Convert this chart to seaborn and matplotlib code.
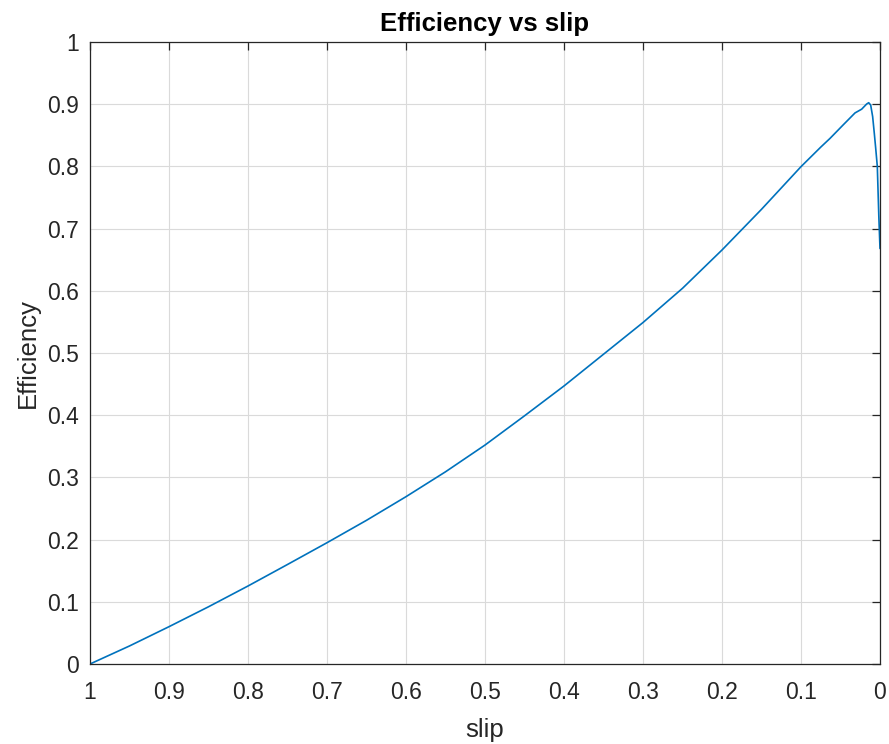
import matplotlib
matplotlib.use("Agg")
import matplotlib.pyplot as plt
import matplotlib.ticker as mticker
import seaborn as sns
import pandas as pd

# Motor efficiency sampled across the slip range (denser near synchronous speed)
slip = [1.0, 0.95, 0.9, 0.85, 0.8, 0.75, 0.7, 0.65, 0.6, 0.55, 0.5, 0.45,
        0.4, 0.35, 0.3, 0.25, 0.2, 0.15, 0.1, 0.075, 0.0633, 0.0464, 0.0316,
        0.0232, 0.0169, 0.0143, 0.0118, 0.0093, 0.0072, 0.0055,
        0.0034, 0.0015, 0.0]
efficiency = [0.0, 0.029, 0.060, 0.092, 0.1254, 0.160, 0.1950, 0.231, 0.269,
              0.309, 0.352, 0.399, 0.447, 0.498, 0.549, 0.604, 0.6656, 0.731,
              0.7996, 0.831, 0.845, 0.867, 0.886, 0.892, 0.9003, 0.9024,
              0.8987, 0.880, 0.853, 0.830, 0.800, 0.720, 0.668]

x_ticks = [1.0, 0.9, 0.8, 0.7, 0.6, 0.5, 0.4, 0.3, 0.2, 0.1, 0.0]
y_ticks = [0.0, 0.1, 0.2, 0.3, 0.4, 0.5, 0.6, 0.7, 0.8, 0.9, 1.0]

df = pd.DataFrame({"slip": slip, "Efficiency": efficiency})

sns.set_style("white")
plt.rcParams["font.family"] = ["Liberation Sans", "DejaVu Sans"]

fig = plt.figure(figsize=(8.89, 7.44), dpi=100)
ax = fig.add_axes([90 / 889, 1 - 664 / 744, 790 / 889, 622 / 744])

dark = "#262626"
sns.lineplot(data=df, x="slip", y="Efficiency", ax=ax, color="#0072BD",
             linewidth=1.2, sort=True, estimator=None)

ax.set_xlim(1, 0)
ax.set_ylim(0, 1)
ax.set_xticks(x_ticks)
ax.set_yticks(y_ticks)
fmt = mticker.FuncFormatter(lambda v, p: f"{v:g}")
ax.xaxis.set_major_formatter(fmt)
ax.yaxis.set_major_formatter(fmt)

ax.grid(True, color="#dadada", linewidth=0.8)
ax.set_axisbelow(True)

for s in ax.spines.values():
    s.set_visible(True)
    s.set_color(dark)
    s.set_linewidth(0.9)

ax.tick_params(axis="both", which="both", direction="in", length=6,
               width=0.9, color=dark, labelcolor=dark, labelsize=16.5,
               top=True, right=True)
ax.tick_params(axis="x", pad=12)
ax.tick_params(axis="y", pad=8)

ax.set_xlabel("slip", fontsize=18.5, color=dark, labelpad=10)
ax.set_ylabel("Efficiency", fontsize=18.5, color=dark, labelpad=5)
ax.set_title("Efficiency vs slip", fontsize=18.5, fontweight="bold",
             color="black", pad=8)

fig.savefig("out.png", dpi=100)
